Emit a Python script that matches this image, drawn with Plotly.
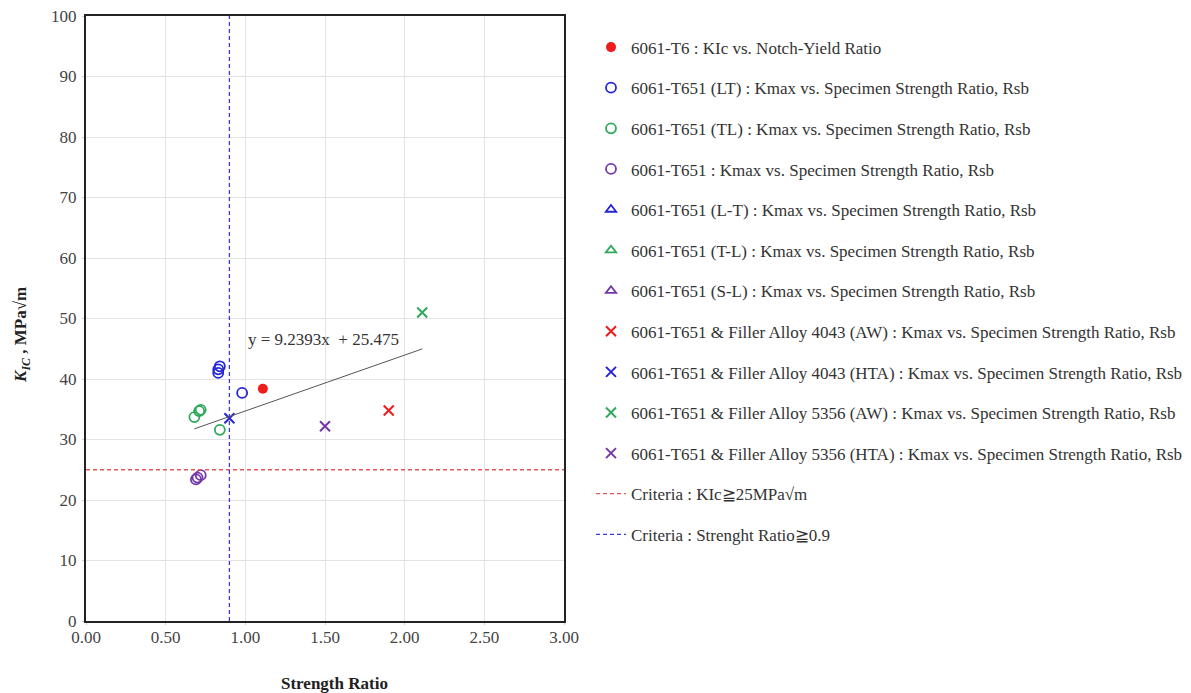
import plotly.graph_objects as go

# ---- data ----
t6_x = [1.11]
t6_y = [38.4]

lt_x = [0.83, 0.83, 0.84, 0.98]
lt_y = [41.0, 41.6, 42.1, 37.7]

tl_x = [0.68, 0.71, 0.72, 0.84]
tl_y = [33.7, 34.7, 34.9, 31.6]

t651_x = [0.69, 0.70, 0.72]
t651_y = [23.4, 23.7, 24.1]

aw4043_x = [1.90]
aw4043_y = [34.8]
hta4043_x = [0.90]
hta4043_y = [33.5]
aw5356_x = [2.11]
aw5356_y = [51.0]
hta5356_x = [1.50]
hta5356_y = [32.2]

trend_slope = 9.2393
trend_intercept = 25.475

kic_criteria = 25
ratio_criteria = 0.9

x_ticks = [0, 0.5, 1.0, 1.5, 2.0, 2.5, 3.0]
y_ticks = [0, 10, 20, 30, 40, 50, 60, 70, 80, 90, 100]

# ---- styles ----
RED = "#ee1c1c"
BLUE = "#2424d8"
GREEN = "#2faa5c"
PURPLE = "#7538a8"
FONT = "Liberation Serif"
TXT = "#333333"

fig = go.Figure()

def add_pts(x, y, name, color, symbol, size=9, lw=1.8, grp=None):
    fig.add_trace(go.Scatter(
        x=x, y=y, mode="markers", name=name, legendgroup=grp or name,
        marker=dict(symbol=symbol, size=size, color=color,
                    line=dict(color=color, width=lw)),
    ))

add_pts(t6_x, t6_y, "6061-T6 : KIc vs. Notch-Yield Ratio", RED, "circle", size=10, lw=0)
add_pts(lt_x, lt_y, "6061-T651 (LT) : Kmax vs. Specimen Strength Ratio, Rsb", BLUE, "circle-open", size=10)
add_pts(tl_x, tl_y, "6061-T651 (TL) : Kmax vs. Specimen Strength Ratio, Rsb", GREEN, "circle-open", size=10)
add_pts(t651_x, t651_y, "6061-T651 : Kmax vs. Specimen Strength Ratio, Rsb", PURPLE, "circle-open", size=10)
add_pts([None], [None], "6061-T651 (L-T) : Kmax vs. Specimen Strength Ratio, Rsb", BLUE, "triangle-up-open")
add_pts([None], [None], "6061-T651 (T-L) : Kmax vs. Specimen Strength Ratio, Rsb", GREEN, "triangle-up-open")
add_pts([None], [None], "6061-T651 (S-L) : Kmax vs. Specimen Strength Ratio, Rsb", PURPLE, "triangle-up-open")
add_pts(aw4043_x, aw4043_y, "6061-T651 &amp; Filler Alloy 4043 (AW) : Kmax vs. Specimen Strength Ratio, Rsb", RED, "x-thin-open", size=10, lw=2)
add_pts(hta4043_x, hta4043_y, "6061-T651 &amp; Filler Alloy 4043 (HTA) : Kmax vs. Specimen Strength Ratio, Rsb", BLUE, "x-thin-open", size=10, lw=2)
add_pts(aw5356_x, aw5356_y, "6061-T651 &amp; Filler Alloy 5356 (AW) : Kmax vs. Specimen Strength Ratio, Rsb", GREEN, "x-thin-open", size=10, lw=2)
add_pts(hta5356_x, hta5356_y, "6061-T651 &amp; Filler Alloy 5356 (HTA) : Kmax vs. Specimen Strength Ratio, Rsb", PURPLE, "x-thin-open", size=10, lw=2)

# criteria lines
fig.add_trace(go.Scatter(
    x=[x_ticks[0], x_ticks[-1]], y=[kic_criteria, kic_criteria], mode="lines",
    name="Criteria : KIc≧25MPa√m", legendgroup="c1",
    line=dict(color="#e05a5a", width=1.3, dash="4px,3px"),
))
fig.add_trace(go.Scatter(
    x=[ratio_criteria, ratio_criteria], y=[y_ticks[0], y_ticks[-1]], mode="lines",
    name="Criteria : Strenght Ratio≧0.9", legendgroup="c2",
    line=dict(color="#3a3ad8", width=1.3, dash="4px,3px"),
))

# linear trend line over the data range
all_x = t6_x + lt_x + tl_x + t651_x + aw4043_x + hta4043_x + aw5356_x + hta5356_x
tx = [min(all_x), max(all_x)]
ty = [trend_slope * v + trend_intercept for v in tx]
fig.add_trace(go.Scatter(
    x=tx, y=ty, mode="lines", showlegend=False,
    line=dict(color="#555555", width=1), hoverinfo="skip",
))

fig.add_annotation(
    x=1.49, y=46.6, xref="x", yref="y",
    text=f"y = {trend_slope}x  + {trend_intercept}",
    showarrow=False, font=dict(family=FONT, size=17, color=TXT),
)

# axis titles
fig.add_annotation(
    x=1.56, y=-0.103, xref="x", yref="paper", yanchor="middle",
    text="<b>Strength Ratio</b>", showarrow=False,
    font=dict(family=FONT, size=17, color="#222222"),
)
fig.add_annotation(
    x=-0.161, y=0.473, xref="paper", yref="paper", textangle=-90,
    text="<b><i>K<sub>IC</sub></i> , MPa√m</b>", showarrow=False,
    font=dict(family=FONT, size=17, color="#222222"),
)

axis_common = dict(
    showgrid=True, gridcolor="#e3e3e3", gridwidth=1,
    showline=True, linecolor="#222222", linewidth=2, mirror=True,
    ticks="outside", ticklen=2, tickcolor="#d0d0d0",
    tickfont=dict(family=FONT, size=17, color="#444444"),
    zeroline=False,
)

fig.update_layout(
    width=1191, height=693,
    margin=dict(l=86, r=627, t=16, b=72, autoexpand=False),
    paper_bgcolor="white", plot_bgcolor="white",
    font=dict(family=FONT, size=17, color=TXT),
    xaxis=dict(range=[0, 3], tickvals=x_ticks, tickformat=".2f",
               ticklabelstandoff=-2, **axis_common),
    yaxis=dict(range=[0, 100], tickvals=y_ticks, ticklabelstandoff=2, **axis_common),
    legend=dict(
        x=1.0565, xanchor="left", xref="paper", y=0.9776, yanchor="top",
        traceorder="grouped", tracegroupgap=15.5,
        font=dict(family=FONT, size=17, color=TXT),
        bgcolor="rgba(0,0,0,0)", itemwidth=30,
    ),
    showlegend=True,
)

fig.write_html("out.html", config={"displayModeBar": False})
